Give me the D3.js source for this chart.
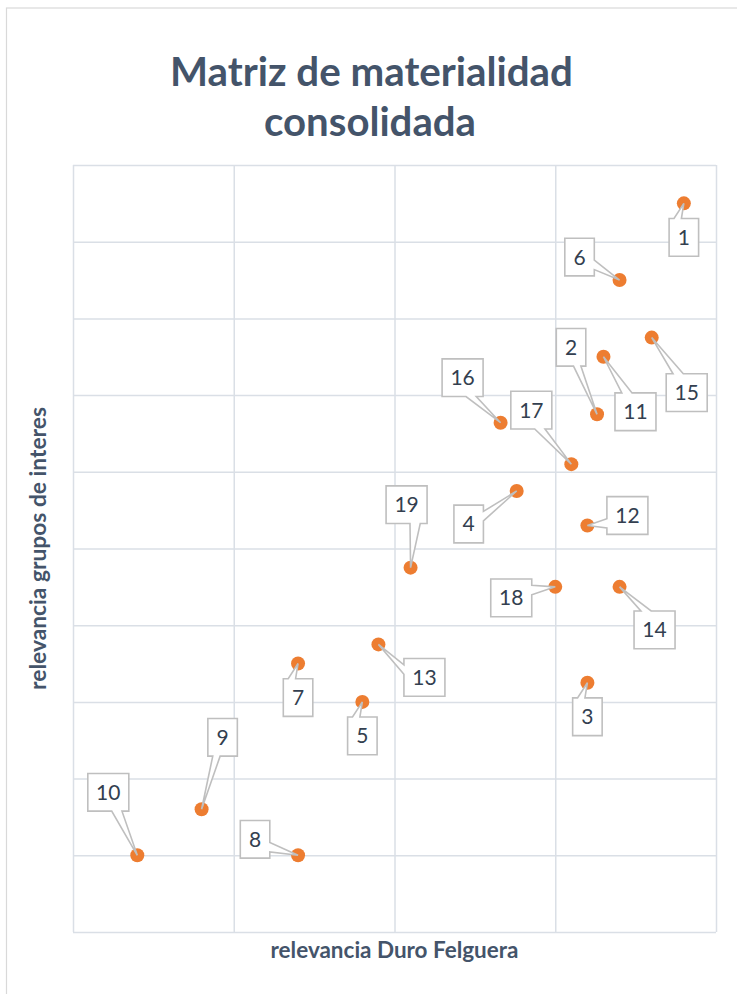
<!DOCTYPE html>
<html>
<head>
<meta charset="utf-8">
<script src="https://cdn.jsdelivr.net/npm/d3@7"></script>
<style>
  html, body { margin: 0; padding: 0; background: #fff; }
  svg { display: block; }
</style>
</head>
<body>
<div id="chart"></div>
<script>
// asuntos materiales (etiqueta, relevancia empresa, relevancia grupos de interes)
var labels = ["1", "2", "3", "4", "5", "6", "7", "8", "9", "10",
              "11", "12", "13", "14", "15", "16", "17", "18", "19"];
var relevanciaDF = [3.80, 3.26, 3.20, 2.76, 1.80, 3.40, 1.40, 1.40, 0.80, 0.40,
                    3.30, 3.20, 1.90, 3.40, 3.60, 2.66, 3.10, 3.00, 2.10];
var relevanciaGI = [4.75, 3.375, 1.625, 2.875, 1.50, 4.25, 1.75, 0.50, 0.80, 0.50,
                    3.75, 2.65, 1.875, 2.25, 3.875, 3.32, 3.05, 2.25, 2.375];
var xTicks = [0, 1, 2, 3, 4];
var yTicks = [0, 0.5, 1, 1.5, 2, 2.5, 3, 3.5, 4, 4.5, 5];

// where each callout box sits, relative to its point (px)
var calloutOffsets = [[0, 34], [-26, -67], [0, 34], [-48, 33], [0, 34], [-40, -23], [0, 34],
                      [-43, -16], [21, -72], [-29, -63], [32, 55], [40, -10], [46, 33],
                      [35, 43], [35, 55], [-38, -45], [-40, -54], [-44, 11], [-4, -63]];

var W = 737, H = 994;
var margin = {left: 73, right: 21, top: 165, bottom: 62};

var svg = d3.select("#chart").append("svg").attr("width", W).attr("height", H);

// chart frame
svg.append("rect").attr("x", 6.5).attr("y", 8).attr("width", W + 20).attr("height", H + 20)
  .attr("fill", "#fff").attr("stroke", "#d9d9d9").attr("stroke-width", 1.2);

var x = d3.scaleLinear().domain([0, 4]).range([margin.left, W - margin.right]);
var y = d3.scaleLinear().domain([0, 5]).range([H - margin.bottom, margin.top]);

// gridlines via axes, no labels
svg.append("g").attr("transform", "translate(0," + (H - margin.bottom) + ")")
  .call(d3.axisBottom(x).tickValues(xTicks).tickSize(-(H - margin.bottom - margin.top)).tickFormat(""));
svg.append("g").attr("transform", "translate(" + margin.left + ",0)")
  .call(d3.axisLeft(y).tickValues(yTicks).tickSize(-(W - margin.right - margin.left)).tickFormat(""));
svg.selectAll(".domain").remove();
svg.selectAll(".tick line").attr("stroke", "#dadfe6").attr("stroke-width", 1.5);

// fit a text element to a target width
function fitText(sel, target) {
  var fs = parseFloat(sel.attr("font-size"));
  var len = sel.node().getComputedTextLength();
  sel.attr("font-size", (fs * target / len).toFixed(2));
}

var titleColor = "#44546a";
var t1 = svg.append("text").attr("x", 371.5).attr("y", 86).attr("text-anchor", "middle")
  .attr("font-family", "Lato, sans-serif").attr("font-weight", "bold").attr("font-size", 36)
  .attr("fill", titleColor).text("Matriz de materialidad");
fitText(t1, 403);
var t2 = svg.append("text").attr("x", 370).attr("y", 136).attr("text-anchor", "middle")
  .attr("font-family", "Lato, sans-serif").attr("font-weight", "bold").attr("font-size", 36)
  .attr("fill", titleColor).text("consolidada");
fitText(t2, 212);

var xt = svg.append("text").attr("x", (x(0) + x(4)) / 2).attr("y", 958).attr("text-anchor", "middle")
  .attr("font-family", "Lato, sans-serif").attr("font-weight", "bold").attr("font-size", 17)
  .attr("fill", titleColor).text("relevancia Duro Felguera");
fitText(xt, 248);
var yt = svg.append("text").attr("transform", "translate(46," + ((y(0) + y(5)) / 2) + ") rotate(-90)")
  .attr("text-anchor", "middle")
  .attr("font-family", "Lato, sans-serif").attr("font-weight", "bold").attr("font-size", 17)
  .attr("fill", titleColor).text("relevancia grupos de interes");
fitText(yt, 283);

var points = labels.map(function (d, i) {
  return {label: d, x: relevanciaDF[i], y: relevanciaGI[i], off: calloutOffsets[i]};
});

// markers
svg.append("g").selectAll("circle").data(points).join("circle")
  .attr("cx", function (d) { return x(d.x); })
  .attr("cy", function (d) { return y(d.y); })
  .attr("r", 7)
  .attr("fill", "#ed7d31");

// rectangular callout with wedge (office style)
function calloutPath(l, t, w, h, tx, ty) {
  var r = l + w, b = t + h, hc = l + w / 2, vc = t + h / 2;
  var dxPos = tx - hc, dyPos = ty - vc;
  var dx = dxPos * h / w, dy = dyPos;
  var inside = tx >= l && tx <= r && ty >= t && ty <= b;
  var side = inside ? "none" : (Math.abs(dx) > Math.abs(dy) ? (dx > 0 ? "right" : "left") : (dy > 0 ? "bottom" : "top"));
  var x1 = l + w * (dxPos > 0 ? 7 : 2) / 12, x2 = l + w * (dxPos > 0 ? 10 : 5) / 12;
  var y1 = t + h * (dyPos > 0 ? 7 : 2) / 12, y2 = t + h * (dyPos > 0 ? 10 : 5) / 12;
  var p = d3.path();
  p.moveTo(l, t);
  if (side === "top") { p.lineTo(x1, t); p.lineTo(tx, ty); p.lineTo(x2, t); }
  p.lineTo(r, t);
  if (side === "right") { p.lineTo(r, y1); p.lineTo(tx, ty); p.lineTo(r, y2); }
  p.lineTo(r, b);
  if (side === "bottom") { p.lineTo(x2, b); p.lineTo(tx, ty); p.lineTo(x1, b); }
  p.lineTo(l, b);
  if (side === "left") { p.lineTo(l, y2); p.lineTo(tx, ty); p.lineTo(l, y1); }
  p.closePath();
  return p.toString();
}

var boxH = 37.7;
var callouts = svg.append("g").selectAll("g").data(points).join("g");
callouts.append("path")
  .attr("d", function (d) {
    var px = x(d.x), py = y(d.y);
    var w = d.label.length > 1 ? 41 : 29.5;
    var cx = px + d.off[0], cy = py + d.off[1];
    return calloutPath(cx - w / 2, cy - boxH / 2, w, boxH, px, py);
  })
  .attr("fill", "#fff").attr("stroke", "#bfbfbf").attr("stroke-width", 1.6)
  .attr("stroke-linejoin", "miter");
callouts.append("text")
  .attr("x", function (d) { return x(d.x) + d.off[0]; })
  .attr("y", function (d) { return y(d.y) + d.off[1] + 7.5; })
  .attr("text-anchor", "middle")
  .attr("font-family", "Lato, sans-serif").attr("font-size", 21)
  .attr("fill", "#333f50")
  .text(function (d) { return d.label; });
</script>
</body>
</html>
